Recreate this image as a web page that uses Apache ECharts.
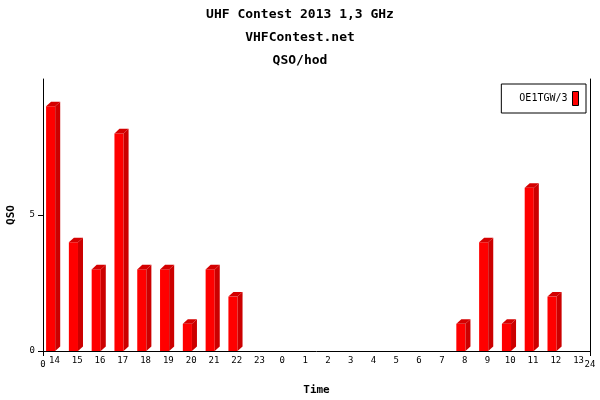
<!DOCTYPE html>
<html>
<head>
<meta charset="utf-8">
<script src="https://cdn.jsdelivr.net/npm/echarts@6/dist/echarts.min.js"></script>
<style>html,body{margin:0;padding:0;background:#fff;}#c{width:600px;height:400px;}</style>
</head>
<body>
<div id="c"></div>
<script>
const titles = ['UHF Contest 2013 1,3 GHz', 'VHFContest.net', 'QSO/hod'];
const hours = ['14','15','16','17','18','19','20','21','22','23','0','1','2','3','4','5','6','7','8','9','10','11','12','13'];
const qso = [9,4,3,8,3,3,1,3,2,0,0,0,0,0,0,0,0,0,1,4,1,6,2,0];
const seriesName = 'OE1TGW/3';
const yTicks = [0,5];
const xEnds = [0,24];

const FONT = 'DejaVu Sans Mono';
const chart = echarts.init(document.getElementById('c'), null, {renderer:'canvas'});

function renderBar(params, api) {
  const idx = api.value(0), v = api.value(1);
  if (!v) return null;
  const base = api.coord([idx, 0]);
  const top = api.coord([idx, v]);
  const bw = api.size([1, 0])[0];
  const cx = base[0];
  const x0 = cx - 0.365 * bw, x1 = cx + 0.035 * bw;
  const dx = 0.22 * bw, dy = 0.2 * bw;
  const yb = base[1], yt = top[1];
  return {
    type: 'group',
    children: [
      {type:'polygon', shape:{points:[[x0,yt],[x1,yt],[x1,yb],[x0,yb]]}, style:{fill:'#ff0000'}},
      {type:'polygon', shape:{points:[[x1,yt],[x1+dx,yt-dy],[x1+dx,yb-dy],[x1,yb]]}, style:{fill:'#cc0000'}},
      {type:'polygon', shape:{points:[[x0,yt],[x0+dx,yt-dy],[x1+dx,yt-dy],[x1,yt]]}, style:{fill:'#d40000'}}
    ]
  };
}

chart.setOption({
  animation: false,
  backgroundColor: '#fff',
  title: titles.map((t, i) => ({
    text: t, left: 'center', top: 3 + i * 23,
    textStyle: {fontFamily: FONT, fontSize: 13, fontWeight: 'bold', color: '#000'}
  })),
  legend: {
    right: 14, top: 84,
    orient: 'vertical',
    align: 'right',
    backgroundColor: '#fff',
    borderColor: '#000', borderWidth: 1,
    padding: [7, 7, 7, 18],
    itemWidth: 6, itemHeight: 14,
    icon: 'rect',
    itemStyle: {borderColor: '#000', borderWidth: 1},
    textStyle: {fontFamily: FONT, fontSize: 10, color: '#000'},
    data: [seriesName]
  },
  grid: {left: 43, right: 10, top: 79, bottom: 49, containLabel: false, outerBoundsMode: 'none'},
  xAxis: [{
    type: 'category', data: hours, boundaryGap: true, position: 'bottom',
    name: 'Time', nameLocation: 'middle', nameGap: 34,
    nameTextStyle: {fontFamily: FONT, fontSize: 11, fontWeight: 'bold', color: '#000'},
    axisLine: {show: true, lineStyle: {color: '#000', width: 1}},
    axisTick: {show: false},
    axisLabel: {fontFamily: FONT, fontSize: 9, color: '#000', margin: 5, interval: 0},
    splitLine: {show: false}
  }, {
    type: 'value', min: xEnds[0], max: xEnds[1], interval: 24, position: 'bottom',
    axisLine: {show: false},
    axisTick: {show: true, length: 5, lineStyle: {color: '#000'}},
    axisLabel: {fontFamily: FONT, fontSize: 9, color: '#000', margin: 9},
    splitLine: {show: false}
  }],
  yAxis: [{
    type: 'value', min: 0, max: 10, interval: 5,
    name: 'QSO', nameLocation: 'middle', nameGap: 26,
    nameTextStyle: {fontFamily: FONT, fontSize: 11, fontWeight: 'bold', color: '#000'},
    axisLine: {show: true, lineStyle: {color: '#000', width: 1}},
    axisTick: {show: true, length: 5, customValues: yTicks, lineStyle: {color: '#000'}},
    axisLabel: {fontFamily: FONT, fontSize: 9, color: '#000', margin: 8, customValues: yTicks},
    splitLine: {show: true, showMinLine: false, showMaxLine: false, lineStyle: {color: '#bbbbbb', type: [2, 4], width: 1}}
  }, {
    type: 'value', min: 0, max: 10, position: 'right',
    axisLine: {show: true, lineStyle: {color: '#000', width: 1}},
    axisTick: {show: false}, axisLabel: {show: false}, splitLine: {show: false}
  }],
  series: [{
    name: seriesName,
    type: 'custom',
    xAxisIndex: 0, yAxisIndex: 0,
    itemStyle: {color: '#ff0000'},
    renderItem: renderBar,
    encode: {x: 0, y: 1},
    data: qso.map((v, i) => [i, v])
  }]
});
</script>
</body>
</html>
